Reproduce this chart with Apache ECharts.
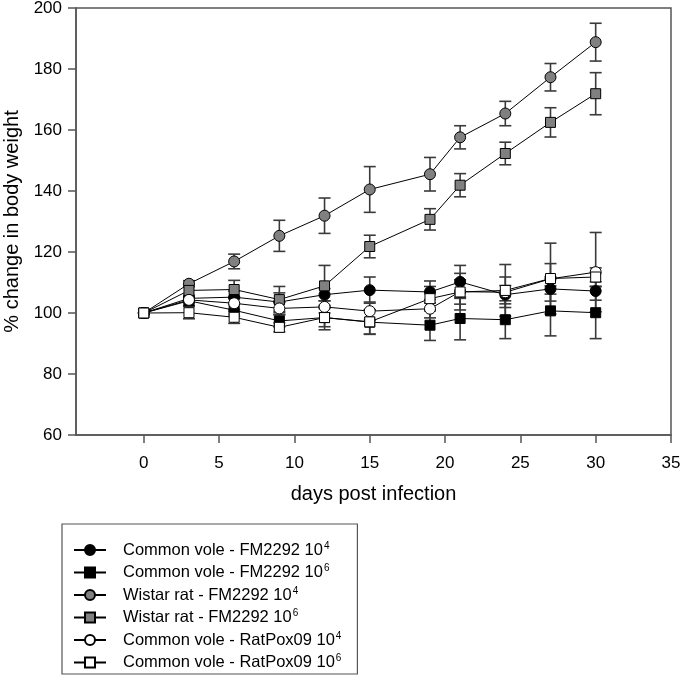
<!DOCTYPE html>
<html>
<head>
<meta charset="utf-8">
<script src="https://cdn.jsdelivr.net/npm/echarts@6/dist/echarts.min.js"></script>
<style>html,body{margin:0;padding:0;background:#fff}#c{width:680px;height:686px}</style>
</head>
<body>
<div id="c"></div>
<script>
// ---- data ----
const days = [0, 3, 6, 9, 12, 15, 19, 21, 24, 27, 30];
const xTicks = [0, 5, 10, 15, 20, 25, 30, 35];
const seriesNames = [
  'Common vole - FM2292 10^4',
  'Common vole - FM2292 10^6',
  'Wistar rat - FM2292 10^4',
  'Wistar rat - FM2292 10^6',
  'Common vole - RatPox09 10^4',
  'Common vole - RatPox09 10^6'
];
const cvFM4 = [100, 104.8, 105.2, 103.6, 106.0, 107.5, 106.9, 110.2, 106.0, 107.9, 107.2];
const cvFM6 = [100, 104.0, 100.9, 97.4, 98.5, 97.0, 96.0, 98.2, 97.8, 100.7, 100.1];
const wr4   = [100, 109.6, 116.9, 125.3, 131.9, 140.5, 145.5, 157.6, 165.4, 177.3, 188.8];
const wr6   = [100, 107.4, 107.7, 104.4, 108.9, 121.8, 130.7, 141.9, 152.3, 162.5, 171.9];
const rp4   = [100, 104.3, 103.2, 101.5, 102.0, 100.6, 101.4, 107.0, 106.8, 111.2, 113.4];
const rp6   = [100, 100.1, 98.6, 95.3, 98.5, 97.1, 104.7, 106.9, 107.4, 111.3, 111.8];
const cvFM4Err = [0, 1.0, 2.0, 3.0, 2.0, 4.3, 3.6, 5.4, 3.0, 4.0, 3.0];
const cvFM6Err = [0, 1.5, 2.0, 2.0, 3.0, 4.0, 5.0, 7.0, 6.2, 8.2, 8.5];
const wr4Err   = [0, 1.0, 2.4, 5.1, 5.8, 7.5, 5.5, 3.8, 4.0, 4.5, 6.2];
const wr6Err   = [0, 2.0, 3.0, 4.3, 6.7, 3.7, 3.5, 3.8, 3.7, 4.8, 6.9];
const rp4Err   = [0, 1.0, 2.0, 2.0, 2.0, 3.0, 3.0, 6.0, 5.0, 5.0, 13.0];
const rp6Err   = [0, 2.0, 2.0, 1.5, 4.0, 4.0, 4.0, 4.0, 8.5, 11.6, 3.0];

// ---- styling ----
const values = [cvFM4, cvFM6, wr4, wr6, rp4, rp6];
const errs = [cvFM4Err, cvFM6Err, wr4Err, wr6Err, rp4Err, rp6Err];
const fills = ['#000000', '#000000', '#808080', '#808080', '#ffffff', '#ffffff'];
const symbols = ['circle', 'rect', 'circle', 'rect', 'circle', 'rect'];
const sizes = [11, 10, 11, 10, 11, 10];
const FONT = '"Liberation Sans", Arial, sans-serif';

function renderErr(params, api) {
  const x = api.value(0), lo = api.value(1), hi = api.value(2);
  const p1 = api.coord([x, hi]);
  const p2 = api.coord([x, lo]);
  const w = 6;
  const st = { stroke: '#3a3a3a', lineWidth: 1.6 };
  return {
    type: 'group',
    children: [
      { type: 'line', shape: { x1: p1[0], y1: p1[1], x2: p2[0], y2: p2[1] }, style: st },
      { type: 'line', shape: { x1: p1[0] - w, y1: p1[1], x2: p1[0] + w, y2: p1[1] }, style: st },
      { type: 'line', shape: { x1: p2[0] - w, y1: p2[1], x2: p2[0] + w, y2: p2[1] }, style: st }
    ]
  };
}

const series = [];
values.forEach((vals, i) => {
  series.push({
    type: 'custom',
    name: 'err' + i,
    renderItem: renderErr,
    encode: { x: 0, y: [1, 2] },
    data: days.map((d, k) => [d, vals[k] - errs[i][k], vals[k] + errs[i][k]]).filter((r, k) => errs[i][k] > 0),
    z: 1,
    silent: true
  });
});
values.forEach((vals, i) => {
  series.push({
    type: 'line',
    name: seriesNames[i],
    data: days.map((d, k) => [d, vals[k]]),
    symbol: symbols[i],
    symbolSize: sizes[i],
    lineStyle: { color: '#000', width: 1 },
    itemStyle: { color: fills[i], borderColor: '#000', borderWidth: 1 },
    z: 2,
    animation: false
  });
});

const chart = echarts.init(document.getElementById('c'), null, { renderer: 'canvas' });
chart.setOption({
  animation: false,
  backgroundColor: '#fff',
  textStyle: { fontFamily: FONT },
  grid: { left: 76, right: 9, top: 8, bottom: 251, show: true, borderColor: '#555', borderWidth: 1.5,
          containLabel: false, outerBoundsMode: 'none' },
  xAxis: {
    type: 'value', min: -4.5, max: 35,
    name: 'days post infection', nameLocation: 'middle', nameGap: 49,
    nameTextStyle: { fontSize: 20, color: '#000', fontFamily: FONT },
    axisLine: { show: true, onZero: false, lineStyle: { color: '#555', width: 1.5 } },
    axisTick: { show: true, length: 8, customValues: xTicks, lineStyle: { color: '#555', width: 1.5 } },
    axisLabel: { customValues: xTicks, margin: 20, fontSize: 17, color: '#000', fontFamily: FONT },
    splitLine: { show: false }
  },
  yAxis: {
    type: 'value', min: 60, max: 200, interval: 20,
    name: '% change in body weight', nameLocation: 'middle', nameGap: 48,
    nameTextStyle: { fontSize: 20, color: '#000', fontFamily: FONT },
    axisLine: { show: true, onZero: false, lineStyle: { color: '#555', width: 1.5 } },
    axisTick: { show: true, length: 8, lineStyle: { color: '#555', width: 1.5 } },
    axisLabel: { margin: 14, fontSize: 17, color: '#000', fontFamily: FONT },
    splitLine: { show: false }
  },
  legend: {
    data: seriesNames,
    orient: 'vertical',
    left: 62, top: 524,
    height: 150,
    padding: [17, 16, 3, 11],
    itemWidth: 32, itemHeight: 12.5, itemGap: 5,
    borderColor: '#555', borderWidth: 1.2,
    selectedMode: false,
    formatter: function (name) {
      const parts = name.split('^');
      return '{t|' + parts[0] + '}{s|' + parts[1] + '}';
    },
    textStyle: {
      fontFamily: FONT, fontSize: 16.5, color: '#000',
      rich: {
        t: { fontFamily: FONT, fontSize: 16.5, color: '#000', padding: [0, 0, 0, 12] },
        s: { fontFamily: FONT, fontSize: 10, color: '#000', padding: [0, 0, 8, 1] }
      }
    }
  },
  series: series
});
</script>
</body>
</html>
